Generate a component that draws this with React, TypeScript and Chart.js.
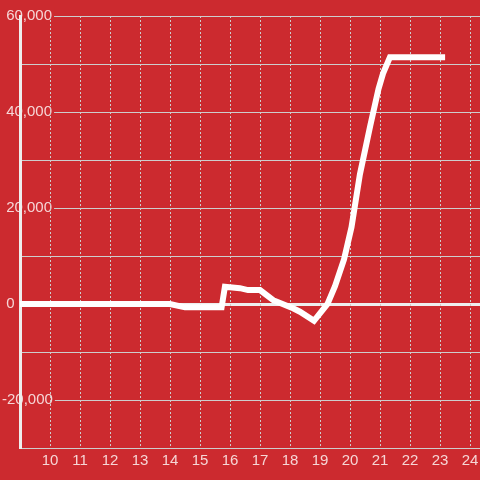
import React, { useEffect, useRef } from "react";
import { Chart, registerables } from "chart.js";

Chart.register(...registerables);

// Hours (x) and values (y) of the single series
const hours = [9, 14.0, 14.5, 15.72, 15.83, 16.33, 16.6, 17.0, 17.44, 18.1, 18.33, 18.8, 19.25, 19.5, 19.8, 20.05, 20.33, 20.67, 20.95, 21.1, 21.33, 23.17];
const values = [0, 0, -700, -700, 3600, 3300, 2900, 2900, 800, -900, -1600, -3500, 0, 3700, 9300, 16000, 27000, 37000, 44800, 48000, 51400, 51400];

const xTicks = [10, 11, 12, 13, 14, 15, 16, 17, 18, 19, 20, 21, 22, 23, 24];
const yLabelled = [60000, 40000, 20000, 0, -20000];

const RED = "rgb(204,42,47)";
const LABEL = "rgb(246,214,214)";
const GRID = "rgb(205,205,205)";

export default function App() {
  const ref = useRef<HTMLCanvasElement | null>(null);

  useEffect(() => {
    if (!ref.current) return;
    const chart = new Chart(ref.current, {
      type: "line",
      data: {
        datasets: [
          {
            data: hours.map((h, i) => ({ x: h, y: values[i] })),
            borderColor: "#ffffff",
            borderWidth: 6,
            pointRadius: 0,
            tension: 0,
            fill: false,
            borderCapStyle: "butt",
            borderJoinStyle: "miter",
          },
        ],
      },
      options: {
        responsive: false,
        animation: false,
        devicePixelRatio: 1,
        layout: { padding: { left: 2, top: 16, right: 0, bottom: 0 } },
        plugins: { legend: { display: false }, tooltip: { enabled: false } },
        scales: {
          y: {
            type: "linear",
            position: "left",
            min: -30000,
            max: 60000,
            afterFit: (s: any) => {
              s.width = 18;
            },
            ticks: {
              stepSize: 10000,
              mirror: true,
              padding: -18,
              color: LABEL,
              font: { family: "Liberation Sans", size: 15 },
              showLabelBackdrop: true,
              backdropColor: RED,
              backdropPadding: { top: 0, bottom: 0, left: 0, right: 2 },
              z: -1,
              callback: (v: any) => {
                const n = Number(v);
                if (!yLabelled.includes(n)) return "";
                const s = n.toLocaleString("en-US");
                return n < 0 ? s : " " + s;
              },
            },
            grid: {
              drawTicks: false,
              color: (ctx: any) => (ctx.tick && ctx.tick.value === 0 ? "#eeeeee" : GRID),
              lineWidth: (ctx: any) => (ctx.tick && ctx.tick.value === 0 ? 3 : 1),
            },
            border: { display: true, color: "#eeeeee", width: 3, z: 0 },
          },
          x: {
            type: "linear",
            position: "bottom",
            min: 9,
            max: 24.333,
            afterFit: (s: any) => {
              s.height = 32;
              s.paddingLeft = 0;
              s.paddingRight = 0;
            },
            afterBuildTicks: (s: any) => {
              s.ticks = xTicks.map((v) => ({ value: v }));
            },
            ticks: {
              stepSize: 1,
              color: LABEL,
              padding: 4,
              maxRotation: 0,
              autoSkip: false,
              font: { family: "Liberation Sans", size: 15 },
              callback: (v: any) => String(v),
            },
            grid: { drawTicks: false, color: GRID, lineWidth: 1 },
            border: { display: false, dash: [2, 2] },
          },
        },
      },
    } as any);
    return () => chart.destroy();
  }, []);

  return (
    <div style={{ position: "absolute", left: 0, top: 0, width: 480, height: 480, background: RED }}>
      <canvas ref={ref} width={480} height={480} style={{ display: "block" }} />
    </div>
  );
}
